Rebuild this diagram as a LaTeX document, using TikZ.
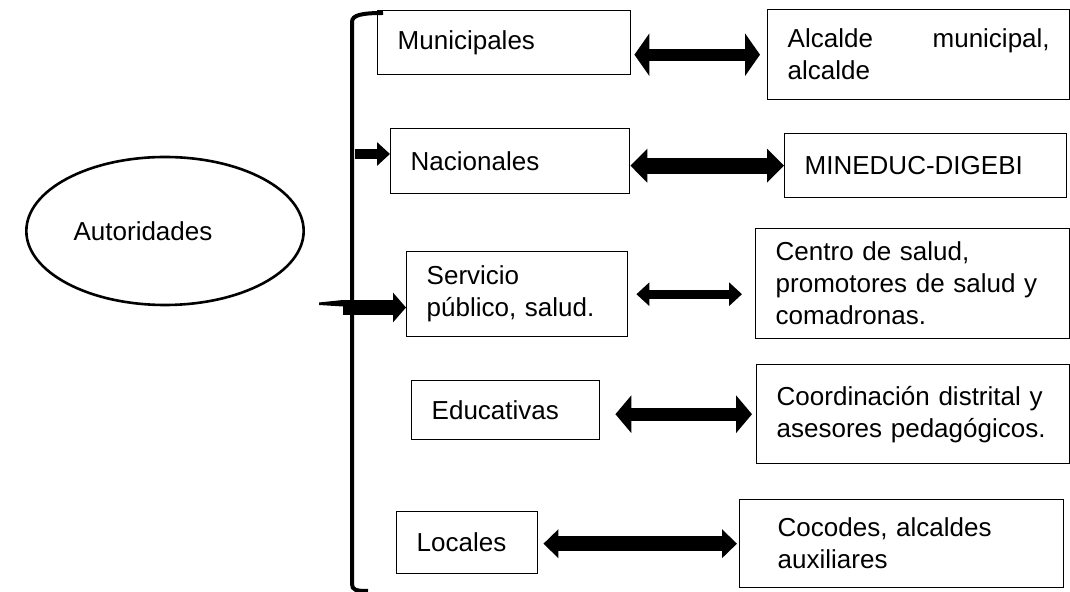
\documentclass[tikz,border=0pt]{standalone}
\usepackage{fontspec}
\setmainfont{Liberation Sans}
\usetikzlibrary{shapes.geometric,arrows.meta}

\begin{document}
\begin{tikzpicture}[x=0.5pt,y=-0.5pt]
   \tikzset{box/.style 2 args={draw,line width=0.7pt,anchor=north west,align=left,inner xsep=10pt,inner ysep=0pt,text width=#1,minimum height=#2,font=\fontsize{13}{16}\selectfont},
     dbl/.style n args={3}{line width=#1,{Triangle[length=#3,width=#2]}-{Triangle[length=#3,width=#2]}}};
   \useasboundingbox (0,0) rectangle (1070,592);
   \node[draw,ellipse,line width=1.3pt,minimum width=132pt,minimum height=74pt,font=\fontsize{13}{16}\selectfont] (0) at (165,231) {Autoridades\kern22pt};
\node[box={106.5pt}{32pt}] (1) at (377,10) {Municipales};
\node[box={99.5pt}{32.5pt}] (2) at (390,128) {Nacionales};
\node[box={90.5pt}{42.5pt}] (3) at (406,251) {Servicio\\público, salud.};
\node[box={74pt}{29.5pt}] (4) at (411,380) {Educativas};
\node[box={50.5pt}{31pt}] (5) at (396,511) {Locales};
\node[box={131pt}{45pt}] (6) at (767,9) {Alcalde \hfill municipal,\\alcalde};
\node[box={121pt}{32pt}] (7) at (784,133) {MINEDUC-DIGEBI};
\node[box={137pt}{55pt}] (8) at (755,228) {Centro de salud,\\promotores de salud y\\comadronas.};
\node[box={136.5pt}{49.5pt}] (9) at (756,364) {Coordinación distrital y\\asesores pedagógicos.};
\node[box={124pt}{44pt},inner xsep=19pt] (10) at (739,499) {Cocodes, alcaldes\\auxiliares};

\draw[line width=2pt] (383,13) .. controls (362,13) and (352,15) .. (352,22) -- (352,584) .. controls (352,590) and (356,591) .. (368,591);
\coordinate (b2) at (355,154);
\coordinate (b3) at (343,307.5);
\draw[line width=5pt,-{Triangle[length=6.5pt,width=11.5pt]}] (b2) -- (b2 -| 2.west);
\draw[line width=7.5pt,-{Triangle[length=6.5pt,width=14.5pt]}] (b3) -- (b3 -| 3.west);
\fill (319,302.5) -- (343,300) -- (343,306.5) -- (319,305) -- cycle;

\draw[dbl={6pt}{21pt}{7.5pt},shorten <=1.5pt,shorten >=3.5pt] (1.east |- 6.west) -- (6.west);
\draw[dbl={8pt}{16.5pt}{8.5pt}] (2.east |- 7.west) -- (7.west);
\draw[dbl={4.5pt}{11.5pt}{6.5pt},shorten <=4pt,shorten >=6.5pt] (3.east) -- (3.east -| 8.west);
\draw[dbl={6.5pt}{18.5pt}{8pt},shorten <=7.5pt,shorten >=2pt] (4.east |- 9.west) -- (9.west);
\draw[dbl={7.5pt}{14pt}{7.5pt},shorten <=2.5pt,shorten >=1pt] (5.east |- 10.west) -- (10.west);
   
\end{tikzpicture}
\end{document}
